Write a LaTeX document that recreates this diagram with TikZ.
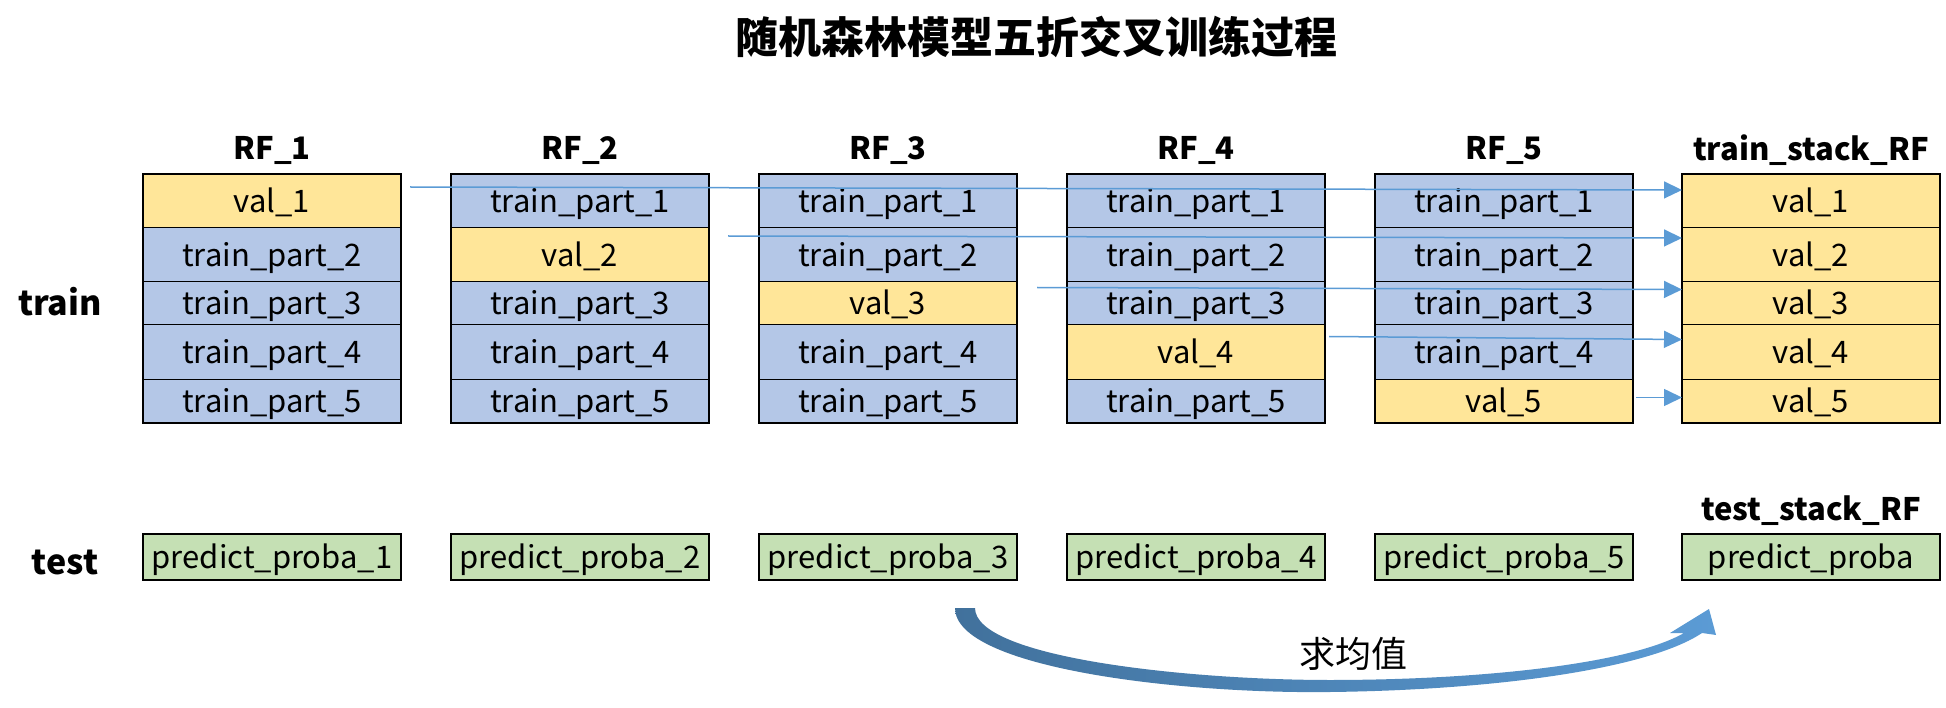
\documentclass[tikz,border=0pt]{standalone}
\usepackage{fontspec}
\setmainfont{Noto Sans CJK SC}
\usetikzlibrary{arrows.meta}
\definecolor{valfill}{HTML}{FFE699}
\definecolor{trainfill}{HTML}{B4C7E7}
\definecolor{probafill}{HTML}{C5E0B4}
\definecolor{linkblue}{HTML}{5B9BD5}
\definecolor{darkblue}{HTML}{41719C}

\begin{document}
\begin{tikzpicture}[x=1pt, y=-1pt, >=Triangle,
  every node/.style={inner sep=0pt, outer sep=0pt, font=\fontsize{31}{33}\selectfont},
  cell/.style={draw, line width=1pt, minimum width=258pt, anchor=north west, text height=23pt, text depth=0pt},
  header/.style={font=\fontsize{31}{33}\selectfont\bfseries},
  side/.style={font=\fontsize{34}{36}\selectfont\bfseries},
  link/.style={linkblue, line width=1.5pt, -{Triangle[length=18pt, width=17pt]}}]
  \useasboundingbox (0,0) rectangle (1946,708);
  \node[font=\fontsize{43}{46}\selectfont\bfseries] (title) at (1036,37) {随机森林模型五折交叉训练过程};
  \node[side] (train) at (60,302) {train};
  \node[side] (test) at (65,562) {test};
  % five folds
  \foreach \c in {1,...,5}{
    \pgfmathsetmacro\xl{143+308*(\c-1)}
    \node[header] (rf\c) at (\xl+129,150) {RF\_\c};
    \foreach \r/\yt/\rh in {1/174/54, 2/228/54, 3/282/43, 4/325/55, 5/380/43}{
      \ifnum\r=\c
        \node[cell, fill=valfill, minimum height=\rh pt] (c\c-\r) at (\xl,\yt) {val\_\r};
      \else
        \node[cell, fill=trainfill, minimum height=\rh pt] (c\c-\r) at (\xl,\yt) {train\_part\_\r};
      \fi
    }
    \draw[line width=2pt] (c\c-1.north west) rectangle (c\c-5.south east);
    \node[cell, fill=probafill, minimum height=46pt, line width=2pt] (p\c) at (\xl,534) {predict\_proba\_\c};
  }
  % stacked results
  \node[header] (stack) at (1811,150) {train\_stack\_RF};
  \foreach \r/\yt/\rh in {1/174/54, 2/228/54, 3/282/43, 4/325/55, 5/380/43}
    \node[cell, fill=valfill, minimum height=\rh pt] (s-\r) at (1682,\yt) {val\_\r};
  \draw[line width=2pt] (s-1.north west) rectangle (s-5.south east);
  \node[header] (teststack) at (1811,511) {test\_stack\_RF};
  \node[cell, fill=probafill, minimum height=46pt, line width=2pt] (ps) at (1682,534) {predict\_proba};
  % val parts to train_stack_RF
  \draw[link] ([xshift=9pt, yshift=14pt]c1-1.east) -- ([yshift=11pt]s-1.west);
  \draw[link] ([xshift=19pt, yshift=19pt]c2-2.east) -- ([yshift=17pt]s-2.west);
  \draw[link] ([xshift=20pt, yshift=16pt]c3-3.east) -- ([yshift=14pt]s-3.west);
  \draw[link] ([xshift=4pt, yshift=16pt]c4-4.east) -- ([yshift=13pt]s-4.west);
  \draw[link] ([xshift=3pt, yshift=4pt]c5-5.east) -- ([yshift=4pt]s-5.west);
  % averaging arrow
  \shade[left color=darkblue, right color=linkblue]
    (955,608) .. controls (955,668) and (1180,694) .. (1330,692)
    .. controls (1500,690) and (1650,668) .. (1702,633)
    -- (1716,635) -- (1709,609) -- (1670,633) -- (1684,633)
    .. controls (1630,664) and (1480,680) .. (1330,680)
    .. controls (1190,680) and (975,658) .. (975,608) -- cycle;
  \node[font=\fontsize{36}{38}\selectfont] (mean) at (1353,654) {求均值};
\end{tikzpicture}
\end{document}
